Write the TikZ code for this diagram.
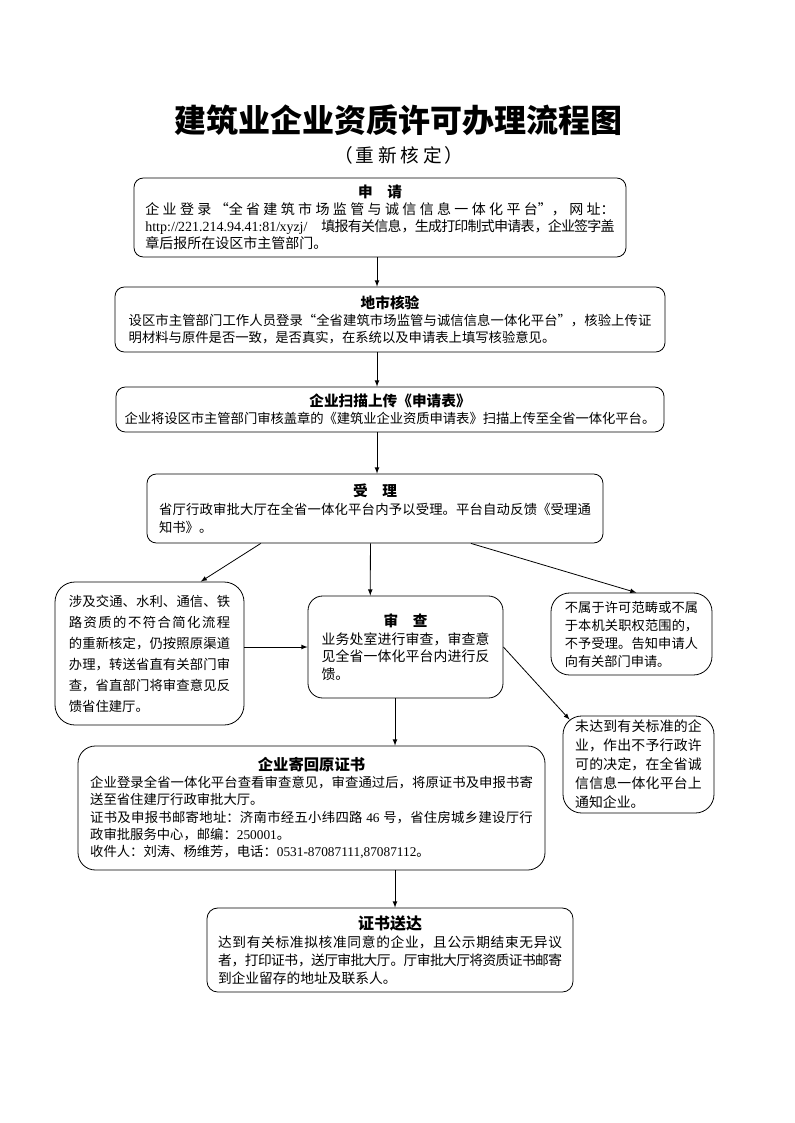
\documentclass[tikz,border=0pt]{standalone}
\usepackage{fontspec}
\setmainfont{Noto Sans CJK SC}
\newfontfamily\lat{Liberation Serif}
\usetikzlibrary{calc}
\XeTeXlinebreaklocale "zh"
\XeTeXlinebreakskip=0pt plus 1pt minus 0.6pt
\begin{document}
\parindent=0pt
\begin{tikzpicture}[>=latex, line width=0.6pt, x=0.75pt, y=-0.75pt,
    kuang/.style={draw, rounded corners=7pt, align=justify, inner sep=0pt},
    biaoti/.style={font=\bfseries\fontsize{11}{15}\selectfont}]
        \useasboundingbox (0,0) rectangle (794,1123);
        \draw (398,120)node[name=BT, font=\bfseries\fontsize{24}{28}\selectfont]{建筑业企业资质许可办理流程图};
        \draw (399,155)node[name=FB, font=\fontsize{14}{16}\selectfont]{（\hspace{2pt}重\hspace{3pt}新\hspace{3pt}核\hspace{3pt}定\hspace{2pt}）};
        \draw (380,217.5)node[kuang, name=SQ, minimum width=369pt, minimum height=59.25pt, text width=352pt, font=\fontsize{10.5}{12.8}\selectfont]{{\centering\bfseries\fontsize{11}{15}\selectfont 申\quad 请\par}企业登录“全省建筑市场监管与诚信信息一体化平台”，网址：\linebreak{\lat http://221.214.94.41:81/xyzj/}\quad 填报有关信息，生成打印制式申请表，企业签字盖\linebreak 章后报所在设区市主管部门。};
        \draw (390,319.5)node[kuang, name=HY, minimum width=412.5pt, minimum height=48.75pt, text width=392pt, font=\fontsize{10}{12.8}\selectfont]{{\centering\bfseries\fontsize{11}{15}\selectfont 地市核验\par}设区市主管部门工作人员登录“全省建筑市场监管与诚信信息一体化平台”，核验上传证\linebreak 明材料与原件是否一致，是否真实，在系统以及申请表上填写核验意见。};
        \draw (390,409.5)node[kuang, name=SM, minimum width=411pt, minimum height=33.75pt, text width=398pt, font=\fontsize{10}{13}\selectfont]{{\centering\bfseries\fontsize{11}{14}\selectfont 企业扫描上传《申请表》\par}{\centering 企业将设区市主管部门审核盖章的《建筑业企业资质申请表》扫描上传至全省一体化平台。\par}};
        \draw (375,508.5)node[kuang, name=SL, minimum width=342pt, minimum height=51.75pt, text width=324pt, font=\fontsize{10}{13.5}\selectfont]{{\centering\bfseries\fontsize{11}{15}\selectfont 受\quad 理\par}省厅行政审批大厅在全省一体化平台内予以受理。平台自动反馈《受理通\linebreak 知书》。};
        \draw (149.5,653.5)node[kuang, name=JD, rounded corners=15pt, minimum width=141.75pt, minimum height=107.25pt, text width=121pt, font=\fontsize{10}{15.75}\selectfont]{涉及交通、水利、通信、铁\linebreak 路资质的不符合简化流程\linebreak 的重新核定，仍按照原渠道\linebreak 办理，转送省直有关部门审\linebreak 查，省直部门将审查意见反\linebreak 馈省住建厅。};
        \draw (405.5,647)node[kuang, name=SC, rounded corners=11pt, minimum width=146.25pt, minimum height=76.5pt, text width=126pt, font=\fontsize{10.4}{13.2}\selectfont]{{\centering\bfseries\fontsize{11}{15}\selectfont 审\quad 查\par}业务处室进行审查，审查意\linebreak 见全省一体化平台内进行反\linebreak 馈。\par\vspace*{18pt}};
        \draw (631.5,634)node[kuang, name=BS, rounded corners=14pt, minimum width=120.75pt, minimum height=61.5pt, text width=100pt, font=\fontsize{9.9}{13.5}\selectfont]{不属于许可范畴或不属\linebreak 于本机关职权范围的，\linebreak 不予受理。告知申请人\linebreak 向有关部门申请。};
        \draw (638.5,764.5)node[kuang, name=WD, rounded corners=14pt, minimum width=113.25pt, minimum height=72.75pt, text width=95pt, font=\fontsize{10.4}{14.25}\selectfont]{未达到有关标准的企\linebreak 业，作出不予行政许\linebreak 可的决定，在全省诚\linebreak 信信息一体化平台上\linebreak 通知企业。};
        \draw (311.5,808)node[kuang, name=JH, rounded corners=13pt, minimum width=350.25pt, minimum height=93pt, text width=332pt, font=\fontsize{10}{13}\selectfont]{{\centering\bfseries\fontsize{11.5}{15}\selectfont 企业寄回原证书\par}企业登录全省一体化平台查看审查意见，审查通过后，将原证书及申报书寄\linebreak 送至省住建厅行政审批大厅。\par 证书及申报书邮寄地址：济南市经五小纬四路{\lat\ 46\ }号，省住房城乡建设厅行\linebreak 政审批服务中心，邮编：{\lat 250001}。\par 收件人：刘涛、杨维芳，电话：{\lat 0531-87087111,87087112}。};
        \draw (390,950)node[kuang, name=SD, rounded corners=8pt, minimum width=274.5pt, minimum height=63pt, text width=258pt, font=\fontsize{10.3}{13.5}\selectfont]{{\centering\bfseries\fontsize{12}{15}\selectfont 证书送达\par}达到有关标准拟核准同意的企业，且公示期结束无异议\linebreak 者，打印证书，送厅审批大厅。厅审批大厅将资质证书邮寄\linebreak 到企业留存的地址及联系人。};
        \coordinate (m) at (377,0);
        \coordinate (n) at (395,0);
        \draw[->] (SQ.south -| m) -- (HY.north -| m);
        \draw[->] (HY.south -| m) -- (SM.north -| m);
        \draw[->] (SM.south -| m) -- (SL.north -| m);
        \draw[->] ($(SL.south west)!0.25!(SL.south east)$) -- ($(JD.north west)!0.77!(JD.north east)$);
        \draw[->] ($(SL.south west)!0.49!(SL.south east)$) -- ($(SC.north west)!0.32!(SC.north east)$);
        \draw[->] ($(SL.south west)!0.71!(SL.south east)$) -- ($(BS.north west)!0.53!(BS.north east)$);
        \draw[->] (JD.east |- SC.west) -- (SC.west);
        \draw[->] (SC.east) -- ($(WD.north west)+(7,4)$);
        \draw[->] (SC.south -| n) -- (JH.north -| n);
        \draw[->] (JH.south -| n) -- (SD.north -| n);
    \end{tikzpicture}
\end{document}
